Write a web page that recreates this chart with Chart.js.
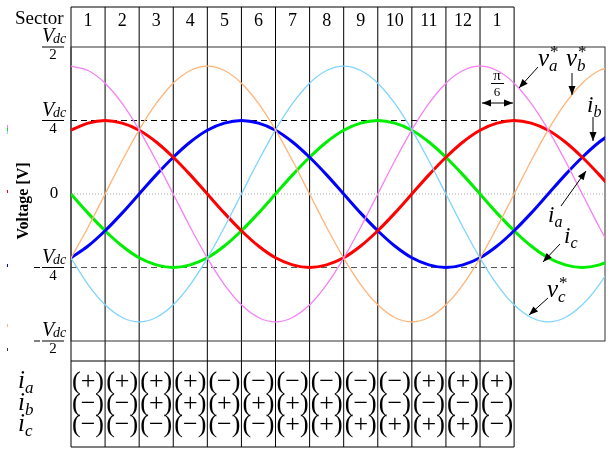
<!DOCTYPE html>
<html>
<head>
<meta charset="utf-8">
<script src="https://cdn.jsdelivr.net/npm/chart.js@4.4.1/dist/chart.umd.min.js"></script>
<style>
  html, body { margin: 0; padding: 0; background: #fff; }
  #wrap { width: 611px; height: 449px; }
</style>
</head>
<body>
<div id="wrap"><canvas id="chart" width="611" height="449"></canvas></div>
<script>
// electrical angle in degrees, one sample every 15 deg
const angles = [0, 15, 30, 45, 60, 75, 90, 105, 120, 135, 150, 165, 180, 195, 210, 225,
  240, 255, 270, 285, 300, 315, 330, 345, 360, 375, 390, 405, 420, 435, 450, 465, 480];

// reference voltages (fraction of Vdc)
const vaRef = [0.435, 0.42, 0.377, 0.308, 0.218, 0.113, 0, -0.113, -0.218, -0.308, -0.377, -0.42, -0.435,
  -0.42, -0.377, -0.308, -0.218, -0.113, 0, 0.113, 0.218, 0.308, 0.377, 0.42, 0.435,
  0.42, 0.377, 0.308, 0.218, 0.113, 0, -0.113, -0.218];
const vbRef = [-0.218, -0.113, 0, 0.113, 0.218, 0.308, 0.377, 0.42, 0.435, 0.42, 0.377, 0.308, 0.218,
  0.113, 0, -0.113, -0.218, -0.308, -0.377, -0.42, -0.435, -0.42, -0.377, -0.308, -0.218,
  -0.113, 0, 0.113, 0.218, 0.308, 0.377, 0.42, 0.435];
const vcRef = [-0.218, -0.308, -0.377, -0.42, -0.435, -0.42, -0.377, -0.308, -0.218, -0.113, 0, 0.113, 0.218,
  0.308, 0.377, 0.42, 0.435, 0.42, 0.377, 0.308, 0.218, 0.113, 0, -0.113, -0.218,
  -0.308, -0.377, -0.42, -0.435, -0.42, -0.377, -0.308, -0.218];

// phase currents
const iaCur = [0.217, 0.241, 0.25, 0.241, 0.217, 0.177, 0.125, 0.065, 0, -0.065, -0.125, -0.177, -0.217,
  -0.241, -0.25, -0.241, -0.217, -0.177, -0.125, -0.065, 0, 0.065, 0.125, 0.177, 0.217,
  0.241, 0.25, 0.241, 0.217, 0.177, 0.125, 0.065, 0];
const ibCur = [-0.217, -0.177, -0.125, -0.065, 0, 0.065, 0.125, 0.177, 0.217, 0.241, 0.25, 0.241, 0.217,
  0.177, 0.125, 0.065, 0, -0.065, -0.125, -0.177, -0.217, -0.241, -0.25, -0.241, -0.217,
  -0.177, -0.125, -0.065, 0, 0.065, 0.125, 0.177, 0.217];
const icCur = [0, -0.065, -0.125, -0.177, -0.217, -0.241, -0.25, -0.241, -0.217, -0.177, -0.125, -0.065, 0,
  0.065, 0.125, 0.177, 0.217, 0.241, 0.25, 0.241, 0.217, 0.177, 0.125, 0.065, 0,
  -0.065, -0.125, -0.177, -0.217, -0.241, -0.25, -0.241, -0.217];

// sectors (30 deg each) and current signs per sector
const sectorLabels = ['1', '2', '3', '4', '5', '6', '7', '8', '9', '10', '11', '12', '1'];
const sectorWidth = 30;
const iaSign = ['+', '+', '+', '+', '−', '−', '−', '−', '−', '−', '+', '+', '+'];
const ibSign = ['−', '−', '+', '+', '+', '+', '+', '+', '−', '−', '−', '−', '−'];
const icSign = ['−', '−', '−', '−', '−', '−', '+', '+', '+', '+', '+', '+', '−'];

// y ticks: value, denominator (0 = plain zero)
const yTickValues = [0.5, 0.25, 0, -0.25, -0.5];
const yTickDenoms = [2, 4, 0, 4, 2];

const SERIF = '"Liberation Serif", "DejaVu Serif", serif';

function pts(ys) {
  return angles.map((a, i) => ({ x: a, y: ys[i] }));
}

function arrow(ctx, x1, y1, x2, y2, both) {
  const head = 9, half = 3.5;
  const ang = Math.atan2(y2 - y1, x2 - x1);
  ctx.beginPath();
  ctx.moveTo(x1, y1);
  ctx.lineTo(x2, y2);
  ctx.stroke();
  const tip = (x, y, a) => {
    ctx.beginPath();
    ctx.moveTo(x, y);
    ctx.lineTo(x - head * Math.cos(a) + half * Math.sin(a), y - head * Math.sin(a) - half * Math.cos(a));
    ctx.lineTo(x - head * Math.cos(a) - half * Math.sin(a), y - head * Math.sin(a) + half * Math.cos(a));
    ctx.closePath();
    ctx.fill();
  };
  tip(x2, y2, ang);
  if (both) tip(x1, y1, ang + Math.PI);
}

// italic symbol with subscript and optional star
function symbol(ctx, x, y, main, sub, star, size) {
  ctx.textAlign = 'left';
  ctx.textBaseline = 'alphabetic';
  ctx.font = `italic ${size}px ${SERIF}`;
  ctx.fillText(main, x, y);
  const w = ctx.measureText(main).width;
  ctx.font = `italic ${Math.round(size * 0.68)}px ${SERIF}`;
  ctx.fillText(sub, x + w, y + size * 0.2);
  if (star) {
    ctx.font = `${Math.round(size * 0.68)}px ${SERIF}`;
    ctx.fillText('*', x + w + 1, y - size * 0.35);
  }
}

// Vdc / n fraction with the bar at yBar
function vdcFrac(ctx, yBar, denom, negative) {
  const x0 = 42, x1 = 64;
  ctx.fillStyle = '#000';
  ctx.textBaseline = 'alphabetic';
  ctx.textAlign = 'left';
  ctx.font = `italic 20px ${SERIF}`;
  ctx.fillText('V', x0, yBar - 5);
  ctx.font = `italic 14px ${SERIF}`;
  ctx.fillText('dc', x0 + 11, yBar - 4);
  ctx.fillRect(x0, yBar - 0.5, x1 - x0, 1);
  ctx.font = `15px ${SERIF}`;
  ctx.textAlign = 'center';
  ctx.fillText(String(denom), (x0 + x1) / 2, yBar + 12);
  if (negative) ctx.fillRect(34, yBar - 0.5, 6, 1);
}

const frame = {
  id: 'sectorFrame',
  beforeDatasetsDraw(chart) {
    const { ctx, chartArea: ca, scales: { x, y } } = chart;
    const n = sectorLabels.length;
    const xs = [];
    for (let k = 0; k <= n; k++) xs.push(x.getPixelForValue(k * sectorWidth));
    const headTop = 7, tabTop = 361, tabBot = 447;

    ctx.save();
    // zero line
    ctx.strokeStyle = '#aaa';
    ctx.lineWidth = 1;
    ctx.setLineDash([1, 2]);
    ctx.beginPath();
    ctx.moveTo(ca.left, y.getPixelForValue(0));
    ctx.lineTo(ca.right, y.getPixelForValue(0));
    ctx.stroke();

    // current amplitude levels
    ctx.setLineDash([6, 4]);
    ctx.strokeStyle = '#000';
    ctx.beginPath();
    ctx.moveTo(ca.left, y.getPixelForValue(0.25));
    ctx.lineTo(xs[n], y.getPixelForValue(0.25));
    ctx.stroke();
    ctx.strokeStyle = '#555';
    ctx.beginPath();
    ctx.moveTo(ca.left, y.getPixelForValue(-0.25));
    ctx.lineTo(xs[n], y.getPixelForValue(-0.25));
    ctx.stroke();
    ctx.setLineDash([]);

    // sector boundaries, header and sign table
    ctx.strokeStyle = '#000';
    ctx.lineWidth = 1;
    ctx.beginPath();
    xs.forEach(px => { ctx.moveTo(px, headTop); ctx.lineTo(px, tabBot); });
    ctx.moveTo(xs[0], headTop); ctx.lineTo(xs[n], headTop);
    ctx.moveTo(xs[0], tabTop); ctx.lineTo(xs[n], tabTop);
    ctx.moveTo(xs[0], tabBot); ctx.lineTo(xs[n], tabBot);
    ctx.stroke();
    ctx.strokeStyle = '#333';
    ctx.strokeRect(ca.left, ca.top, ca.right - ca.left, ca.bottom - ca.top);

    ctx.fillStyle = '#000';
    ctx.textBaseline = 'middle';
    ctx.textAlign = 'center';
    ctx.font = `18px ${SERIF}`;
    sectorLabels.forEach((s, k) => ctx.fillText(s, (xs[k] + xs[k + 1]) / 2, 21));
    ctx.textAlign = 'left';
    ctx.font = `19px ${SERIF}`;
    ctx.fillText('Sector', 15, 19);

    const rows = [iaSign, ibSign, icSign];
    const rowY = [382, 404, 425];
    ctx.textAlign = 'center';
    ctx.textBaseline = 'middle';
    ctx.font = `26px ${SERIF}`;
    rows.forEach((r, j) => r.forEach((s, k) => {
      ctx.fillText('(' + s + ')', (xs[k] + xs[k + 1]) / 2, rowY[j]);
    }));
    ['a', 'b', 'c'].forEach((s, j) => symbol(ctx, 18, rowY[j] + 6, 'i', s, false, 25));

    // y labels
    yTickValues.forEach((v, i) => {
      const py = y.getPixelForValue(v);
      if (yTickDenoms[i] === 0) {
        ctx.font = `17px ${SERIF}`;
        ctx.textAlign = 'center';
        ctx.textBaseline = 'middle';
        ctx.fillText('0', 54, py);
      } else {
        vdcFrac(ctx, py, yTickDenoms[i], v < 0);
      }
    });

    ctx.save();
    ctx.translate(24, 201);
    ctx.rotate(-Math.PI / 2);
    ctx.font = `bold 16px ${SERIF}`;
    ctx.textAlign = 'center';
    ctx.textBaseline = 'middle';
    ctx.fillText('Voltage [V]', 0, 0);
    ctx.restore();

    // faint series markers on the left edge
    [['#f080f0', 125], ['#22dd22', 128], ['#80d8ff', 131], ['#ff0000', 190],
     ['#0000ff', 264], ['#ffb478', 324], ['#333', 348]].forEach(([c, py]) => {
      ctx.fillStyle = c;
      ctx.fillRect(7, py, 1, 3);
    });
    ctx.restore();
  },
  afterDatasetsDraw(chart) {
    const { ctx } = chart;
    ctx.save();
    ctx.strokeStyle = '#000';
    ctx.fillStyle = '#000';
    ctx.lineWidth = 1;

    // pi/6 span
    ctx.textAlign = 'center';
    ctx.textBaseline = 'alphabetic';
    ctx.font = `15px ${SERIF}`;
    ctx.fillText('π', 497, 80);
    ctx.fillRect(491, 83, 13, 1);
    ctx.font = `13px ${SERIF}`;
    ctx.fillText('6', 497, 96);
    arrow(ctx, 482, 103, 513, 103, true);

    arrow(ctx, 538, 67, 519, 88);
    arrow(ctx, 572, 73, 572, 95);
    arrow(ctx, 593, 117, 593, 141);
    arrow(ctx, 561, 206, 586, 171);
    arrow(ctx, 560, 244, 543, 262);
    arrow(ctx, 548, 298, 529, 315);

    symbol(ctx, 538, 66, 'v', 'a', true, 25);
    symbol(ctx, 566, 66, 'v', 'b', true, 25);
    symbol(ctx, 587, 112, 'i', 'b', false, 23);
    symbol(ctx, 548, 222, 'i', 'a', false, 23);
    symbol(ctx, 564, 243, 'i', 'c', false, 23);
    symbol(ctx, 547, 297, 'v', 'c', true, 25);
    ctx.restore();
  }
};

const thin = 1.3, thick = 3;
new Chart(document.getElementById('chart'), {
  type: 'line',
  data: {
    datasets: [
      { label: 'va*', data: pts(vaRef), borderColor: '#f582f5', borderWidth: thin },
      { label: 'vb*', data: pts(vbRef), borderColor: '#ffb478', borderWidth: thin },
      { label: 'vc*', data: pts(vcRef), borderColor: '#80d4ff', borderWidth: thin },
      { label: 'ia', data: pts(iaCur), borderColor: '#ff0000', borderWidth: thick },
      { label: 'ib', data: pts(ibCur), borderColor: '#0000ff', borderWidth: thick },
      { label: 'ic', data: pts(icCur), borderColor: '#00ee00', borderWidth: thick }
    ]
  },
  options: {
    responsive: false,
    animation: false,
    events: [],
    elements: {
      point: { radius: 0 },
      line: { cubicInterpolationMode: 'monotone', fill: false }
    },
    layout: { padding: { left: 71, right: 6, top: 47, bottom: 108 } },
    scales: {
      x: { type: 'linear', min: 0, max: 470, display: false },
      y: { min: -0.5, max: 0.5, display: false }
    },
    plugins: {
      legend: { display: false },
      tooltip: { enabled: false }
    }
  },
  plugins: [frame]
});
</script>
</body>
</html>
